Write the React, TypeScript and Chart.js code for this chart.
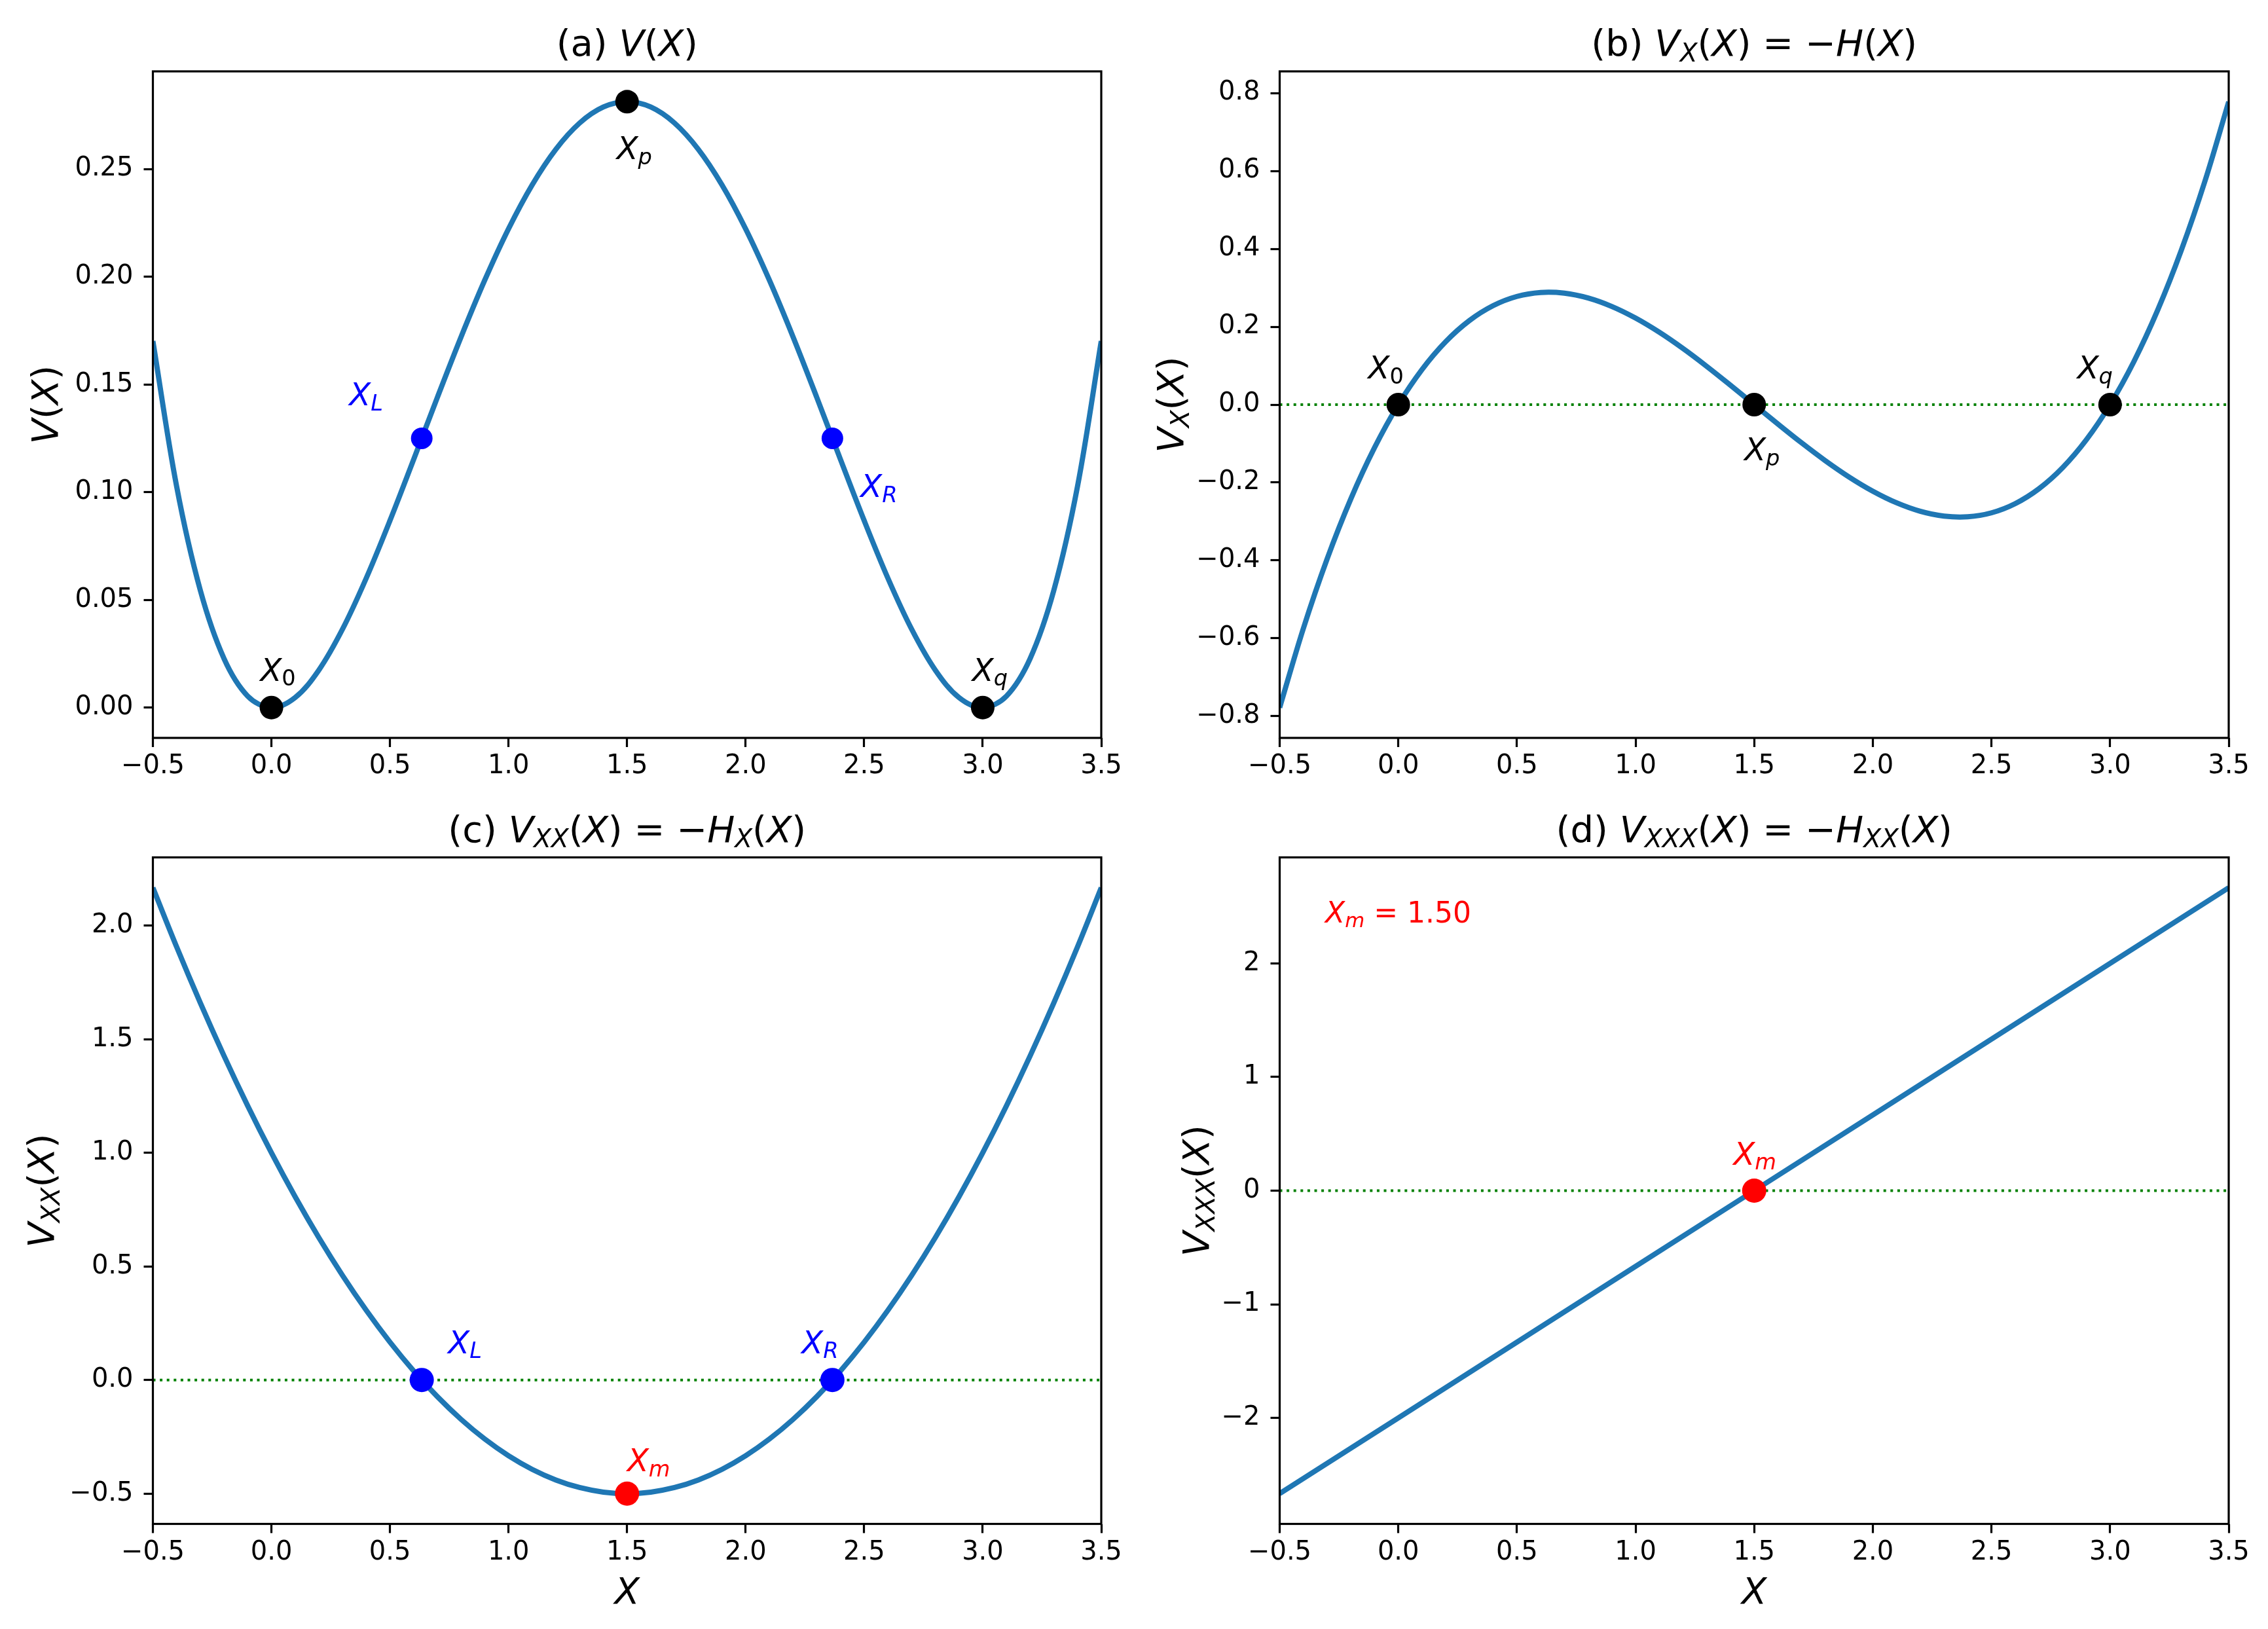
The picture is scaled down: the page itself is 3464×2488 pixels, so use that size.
import { useEffect, useRef } from 'react';
import { Chart, registerables } from 'chart.js';

Chart.register(...registerables);

// ---- data -------------------------------------------------------------
const X_GRID = [
  -0.5, -0.4, -0.3, -0.2, -0.1, 0.0, 0.1, 0.2, 0.3, 0.4, 0.5, 0.6, 0.7, 0.8,
  0.9, 1.0, 1.1, 1.2, 1.3, 1.4, 1.5, 1.6, 1.7, 1.8, 1.9, 2.0, 2.1, 2.2, 2.3,
  2.4, 2.5, 2.6, 2.7, 2.8, 2.9, 3.0, 3.1, 3.2, 3.3, 3.4, 3.5,
];

// V(X)
const V_VALUES = [
  0.17014, 0.10276, 0.05445, 0.02276, 0.00534, 0.0, 0.00467, 0.01742, 0.03645,
  0.06009, 0.08681, 0.1152, 0.14401, 0.17209, 0.19845, 0.22222, 0.24267,
  0.2592, 0.27134, 0.27876, 0.28125, 0.27876, 0.27134, 0.2592, 0.24267,
  0.22222, 0.19845, 0.17209, 0.14401, 0.1152, 0.08681, 0.06009, 0.03645,
  0.01742, 0.00467, 0.0, 0.00534, 0.02276, 0.05445, 0.10276, 0.17014,
];

// V_X(X) = -H(X)
const VX_VALUES = [
  -0.77778, -0.57422, -0.396, -0.24178, -0.11022, 0.0, 0.09022, 0.16178, 0.216,
  0.25422, 0.27778, 0.288, 0.28622, 0.27378, 0.252, 0.22222, 0.18578, 0.144,
  0.09822, 0.04978, 0.0, -0.04978, -0.09822, -0.144, -0.18578, -0.22222,
  -0.252, -0.27378, -0.28622, -0.288, -0.27778, -0.25422, -0.216, -0.16178,
  -0.09022, 0.0, 0.11022, 0.24178, 0.396, 0.57422, 0.77778,
];

// V_XX(X) = -H_X(X)
const VXX_VALUES = [
  2.16667, 1.90667, 1.66, 1.42667, 1.20667, 1.0, 0.80667, 0.62667, 0.46,
  0.30667, 0.16667, 0.04, -0.07333, -0.17333, -0.26, -0.33333, -0.39333, -0.44,
  -0.47333, -0.49333, -0.5, -0.49333, -0.47333, -0.44, -0.39333, -0.33333,
  -0.26, -0.17333, -0.07333, 0.04, 0.16667, 0.30667, 0.46, 0.62667, 0.80667,
  1.0, 1.20667, 1.42667, 1.66, 1.90667, 2.16667,
];

// V_XXX(X) = -H_XX(X)
const X_LINE = [-0.5, 0.0, 0.5, 1.0, 1.5, 2.0, 2.5, 3.0, 3.5];
const VXXX_VALUES = [-2.66667, -2.0, -1.33333, -0.66667, 0.0, 0.66667, 1.33333, 2.0, 2.66667];

// special points
const CRIT_X = [0.0, 1.5, 3.0]; // X_0, X_p, X_q
const CRIT_V = [0.0, 0.28125, 0.0];
const CRIT_VX = [0.0, 0.0, 0.0];
const INFL_X = [0.634, 2.366]; // X_L, X_R
const INFL_V = [0.125, 0.125];
const INFL_VXX = [0.0, 0.0];
const XM = 1.5; // X_m
const XM_VXX = -0.5;
const XM_VXXX = 0.0;

// zero reference line
const ZERO_X = [-0.5, 3.5];
const ZERO_Y = [0.0, 0.0];

// axes
const X_RANGE = [-0.5, 3.5];
const X_TICKS = [-0.5, 0.0, 0.5, 1.0, 1.5, 2.0, 2.5, 3.0, 3.5];
const Y_RANGE_A = [-0.0140625, 0.2953125];
const Y_TICKS_A = [0.0, 0.05, 0.1, 0.15, 0.2, 0.25];
const Y_RANGE_B = [-0.855556, 0.855556];
const Y_TICKS_B = [-0.8, -0.6, -0.4, -0.2, 0.0, 0.2, 0.4, 0.6, 0.8];
const Y_RANGE_C = [-0.633333, 2.3];
const Y_TICKS_C = [-0.5, 0.0, 0.5, 1.0, 1.5, 2.0];
const Y_RANGE_D = [-2.933333, 2.933333];
const Y_TICKS_D = [-2, -1, 0, 1, 2];

// ---- styling ----------------------------------------------------------
const FONT = '"DejaVu Sans", "Liberation Sans", sans-serif';
const CURVE_COLOR = '#1f77b4';
const ZERO_COLOR = '#008000';
const TICK_SIZE = 40;
const TITLE_SIZE = 56;
const LABEL_SIZE = 56;
const NOTE_SIZE = 48;

type Seg = { t: string; it?: boolean; sub?: boolean };
const N = (t: string): Seg => ({ t });
const I = (t: string): Seg => ({ t, it: true });
const S = (t: string): Seg => ({ t, it: true, sub: true });
const SN = (t: string): Seg => ({ t, sub: true });

function segFont(s: Seg, size: number) {
  return `${s.it ? 'italic ' : ''}${s.sub ? size * 0.7 : size}px ${FONT}`;
}

function segsWidth(ctx: CanvasRenderingContext2D, segs: Seg[], size: number) {
  let w = 0;
  for (const s of segs) {
    ctx.font = segFont(s, size);
    w += ctx.measureText(s.t).width;
  }
  return w;
}

function drawSegs(
  ctx: CanvasRenderingContext2D,
  segs: Seg[],
  x: number,
  y: number,
  size: number,
  color: string,
  align: 'left' | 'center',
) {
  const w = segsWidth(ctx, segs, size);
  let cx = align === 'center' ? x - w / 2 : x;
  ctx.fillStyle = color;
  ctx.textAlign = 'left';
  ctx.textBaseline = 'alphabetic';
  for (const s of segs) {
    ctx.font = segFont(s, size);
    ctx.fillText(s.t, cx, y + (s.sub ? size * 0.16 : 0));
    cx += ctx.measureText(s.t).width;
  }
}

function fmt(v: number, digits: number) {
  const s = Number(v).toFixed(digits);
  return s.startsWith('-') ? '\u2212' + s.slice(1) : s;
}

interface Mark { xs: number[]; ys: number[]; color: string; r: number }
interface Note { x: number; y: number; segs: Seg[]; color: string; dx: number; dy: number }
interface PanelDef {
  box: { left: number; top: number; w: number; h: number };
  area: { top: number; right: number; yAxisW: number; xAxisH: number };
  yRange: number[];
  yTicks: number[];
  yDigits: number;
  curveX: number[];
  curveY: number[];
  smooth: boolean;
  zero: boolean;
  marks: Mark[];
  notes: Note[];
  title: Seg[];
  titleBase: number;
  ylabel: Seg[];
  ylabelX: number;
  xlabelBase?: number;
  text?: { segs: Seg[]; x: number; y: number; size: number; color: string };
}

const subX = [S('X')];
const PANELS: PanelDef[] = [
  {
    box: { left: 0, top: 0, w: 1732, h: 1230 },
    area: { top: 109, right: 50, yAxisW: 233.5, xAxisH: 103 },
    yRange: Y_RANGE_A,
    yTicks: Y_TICKS_A,
    yDigits: 2,
    curveX: X_GRID,
    curveY: V_VALUES,
    smooth: true,
    zero: false,
    marks: [
      { xs: CRIT_X, ys: CRIT_V, color: '#000000', r: 18 },
      { xs: INFL_X, ys: INFL_V, color: '#0000ff', r: 16.5 },
    ],
    notes: [
      { x: CRIT_X[0], y: CRIT_V[0], segs: [I('X'), SN('0')], color: '#000', dx: 10, dy: -41 },
      { x: CRIT_X[1], y: CRIT_V[1], segs: [I('X'), S('p')], color: '#000', dx: 11, dy: 88 },
      { x: CRIT_X[2], y: CRIT_V[2], segs: [I('X'), S('q')], color: '#000', dx: 11, dy: -41 },
      { x: INFL_X[0], y: INFL_V[0], segs: [I('X'), S('L')], color: '#0000ff', dx: -85, dy: -50 },
      { x: INFL_X[1], y: INFL_V[1], segs: [I('X'), S('R')], color: '#0000ff', dx: 71, dy: 90 },
    ],
    title: [N('(a) '), I('V'), N('('), I('X'), N(')')],
    titleBase: 85,
    ylabel: [I('V'), N('('), I('X'), N(')')],
    ylabelX: 70,
  },
  {
    box: { left: 1732, top: 0, w: 1732, h: 1230 },
    area: { top: 109, right: 60, yAxisW: 222.5, xAxisH: 103 },
    yRange: Y_RANGE_B,
    yTicks: Y_TICKS_B,
    yDigits: 1,
    curveX: X_GRID,
    curveY: VX_VALUES,
    smooth: true,
    zero: true,
    marks: [{ xs: CRIT_X, ys: CRIT_VX, color: '#000000', r: 18 }],
    notes: [
      { x: CRIT_X[0], y: CRIT_VX[0], segs: [I('X'), SN('0')], color: '#000', dx: -19, dy: -40 },
      { x: CRIT_X[1], y: CRIT_VX[1], segs: [I('X'), S('p')], color: '#000', dx: 12, dy: 85 },
      { x: CRIT_X[2], y: CRIT_VX[2], segs: [I('X'), S('q')], color: '#000', dx: -23, dy: -40 },
    ],
    title: [N('(b) '), I('V'), ...subX, N('('), I('X'), N(') = \u2212'), I('H'), N('('), I('X'), N(')')],
    titleBase: 85,
    ylabel: [I('V'), ...subX, N('('), I('X'), N(')')],
    ylabelX: 57,
  },
  {
    box: { left: 0, top: 1230, w: 1732, h: 1258 },
    area: { top: 79.5, right: 50, yAxisW: 233.5, xAxisH: 160.5 },
    yRange: Y_RANGE_C,
    yTicks: Y_TICKS_C,
    yDigits: 1,
    curveX: X_GRID,
    curveY: VXX_VALUES,
    smooth: true,
    zero: true,
    marks: [
      { xs: INFL_X, ys: INFL_VXX, color: '#0000ff', r: 18.5 },
      { xs: [XM], ys: [XM_VXX], color: '#ff0000', r: 18.5 },
    ],
    notes: [
      { x: INFL_X[0], y: INFL_VXX[0], segs: [I('X'), S('L')], color: '#0000ff', dx: 66, dy: -41 },
      { x: INFL_X[1], y: INFL_VXX[1], segs: [I('X'), S('R')], color: '#0000ff', dx: -19, dy: -41 },
      { x: XM, y: XM_VXX, segs: [I('X'), S('m')], color: '#ff0000', dx: 33, dy: -34 },
    ],
    title: [N('(c) '), I('V'), S('XX'), N('('), I('X'), N(') = \u2212'), I('H'), S('X'), N('('), I('X'), N(')')],
    titleBase: 55.5,
    ylabel: [I('V'), S('XX'), N('('), I('X'), N(')')],
    ylabelX: 64,
    xlabelBase: 1219,
  },
  {
    box: { left: 1732, top: 1230, w: 1732, h: 1258 },
    area: { top: 79.5, right: 60, yAxisW: 222.5, xAxisH: 160.5 },
    yRange: Y_RANGE_D,
    yTicks: Y_TICKS_D,
    yDigits: 0,
    curveX: X_LINE,
    curveY: VXXX_VALUES,
    smooth: false,
    zero: true,
    marks: [{ xs: [XM], ys: [XM_VXXX], color: '#ff0000', r: 18.5 }],
    notes: [
      { x: XM, y: XM_VXXX, segs: [I('X'), S('m')], color: '#ff0000', dx: 1, dy: -40 },
    ],
    title: [N('(d) '), I('V'), S('XXX'), N('('), I('X'), N(') = \u2212'), I('H'), S('XX'), N('('), I('X'), N(')')],
    titleBase: 55.5,
    ylabel: [I('V'), S('XXX'), N('('), I('X'), N(')')],
    ylabelX: 96,
    xlabelBase: 1219,
    text: { segs: [I('X'), S('m'), N(' = ' + XM.toFixed(2))], x: 292, y: 179, size: 44, color: '#ff0000' },
  },
];

function overlayPlugin(def: PanelDef) {
  return {
    id: 'panelOverlay',
    afterDraw(chart: any) {
      const { ctx, chartArea: a, scales } = chart;
      ctx.save();
      // axes frame
      ctx.strokeStyle = '#000';
      ctx.lineWidth = 3.2;
      ctx.strokeRect(a.left, a.top, a.right - a.left, a.bottom - a.top);

      const midX = (a.left + a.right) / 2;
      const midY = (a.top + a.bottom) / 2;

      // title
      drawSegs(ctx, def.title, midX, def.titleBase, TITLE_SIZE, '#000', 'center');

      // y label (rotated)
      ctx.save();
      ctx.translate(def.ylabelX, midY);
      ctx.rotate(-Math.PI / 2);
      drawSegs(ctx, def.ylabel, 0, LABEL_SIZE * 0.315, LABEL_SIZE, '#000', 'center');
      ctx.restore();

      // x label
      if (def.xlabelBase !== undefined) {
        drawSegs(ctx, [I('X')], midX, def.xlabelBase, LABEL_SIZE, '#000', 'center');
      }

      // point annotations
      for (const n of def.notes) {
        const px = scales.x.getPixelForValue(n.x);
        const py = scales.y.getPixelForValue(n.y);
        drawSegs(ctx, n.segs, px + n.dx, py + n.dy, NOTE_SIZE, n.color, 'center');
      }

      if (def.text) {
        const t = def.text;
        drawSegs(ctx, t.segs, t.x, t.y, t.size, t.color, 'left');
      }
      ctx.restore();
    },
  };
}

function buildConfig(def: PanelDef): any {
  const datasets: any[] = [];
  def.marks.forEach((m) => {
    datasets.push({
      data: m.xs.map((x, i) => ({ x, y: m.ys[i] })),
      showLine: false,
      pointRadius: m.r,
      pointHoverRadius: m.r,
      pointBackgroundColor: m.color,
      pointBorderColor: m.color,
      pointBorderWidth: 0,
      borderColor: m.color,
      order: 0,
    });
  });
  datasets.push({
    data: def.curveX.map((x, i) => ({ x, y: def.curveY[i] })),
    borderColor: CURVE_COLOR,
    borderWidth: 8,
    pointRadius: 0,
    pointHoverRadius: 0,
    cubicInterpolationMode: 'default',
    tension: def.smooth ? 0.35 : 0,
    borderCapStyle: 'butt',
    borderJoinStyle: 'round',
    fill: false,
    order: 1,
  });
  if (def.zero) {
    datasets.push({
      data: ZERO_X.map((x, i) => ({ x, y: ZERO_Y[i] })),
      borderColor: ZERO_COLOR,
      borderWidth: 4,
      borderDash: [4, 6.6],
      borderCapStyle: 'butt',
      pointRadius: 0,
      pointHoverRadius: 0,
      fill: false,
      order: 2,
    });
  }

  const tickFont = { family: FONT, size: TICK_SIZE };
  const grid = {
    drawOnChartArea: false,
    drawTicks: true,
    tickLength: 14,
    tickWidth: 3.2,
    tickColor: '#000',
  };

  return {
    type: 'line',
    data: { datasets },
    options: {
      responsive: false,
      maintainAspectRatio: false,
      animation: false,
      devicePixelRatio: 1,
      events: [],
      layout: { padding: { top: def.area.top, left: 0, right: def.area.right, bottom: 0 } },
      plugins: {
        legend: { display: false },
        tooltip: { enabled: false },
        title: { display: false },
      },
      scales: {
        x: {
          type: 'linear',
          min: X_RANGE[0],
          max: X_RANGE[1],
          afterBuildTicks: (axis: any) => {
            axis.ticks = X_TICKS.map((v) => ({ value: v }));
          },
          afterFit: (s: any) => {
            s.height = def.area.xAxisH;
          },
          grid,
          border: { display: false },
          ticks: {
            color: '#000',
            font: tickFont,
            padding: 6,
            maxRotation: 0,
            minRotation: 0,
            autoSkip: false,
            callback: (v: number) => fmt(v, 1),
          },
        },
        y: {
          type: 'linear',
          min: def.yRange[0],
          max: def.yRange[1],
          afterBuildTicks: (axis: any) => {
            axis.ticks = def.yTicks.map((v) => ({ value: v }));
          },
          afterFit: (s: any) => {
            s.width = def.area.yAxisW;
          },
          grid,
          border: { display: false },
          ticks: {
            color: '#000',
            font: tickFont,
            padding: 16,
            autoSkip: false,
            callback: (v: number) => fmt(v, def.yDigits),
          },
        },
      },
    },
    plugins: [overlayPlugin(def)],
  };
}

function Panel({ def }: { def: PanelDef }) {
  const ref = useRef<HTMLCanvasElement>(null);
  useEffect(() => {
    const chart = new Chart(ref.current as HTMLCanvasElement, buildConfig(def));
    return () => chart.destroy();
  }, [def]);
  return (
    <canvas
      ref={ref}
      width={def.box.w}
      height={def.box.h}
      style={{
        position: 'absolute',
        left: def.box.left,
        top: def.box.top,
        width: def.box.w,
        height: def.box.h,
      }}
    />
  );
}

export default function App() {
  return (
    <div
      style={{
        position: 'absolute',
        left: 0,
        top: 0,
        width: 3464,
        height: 2488,
        background: '#ffffff',
        overflow: 'hidden',
      }}
    >
      {PANELS.map((p, i) => (
        <Panel key={i} def={p} />
      ))}
    </div>
  );
}
